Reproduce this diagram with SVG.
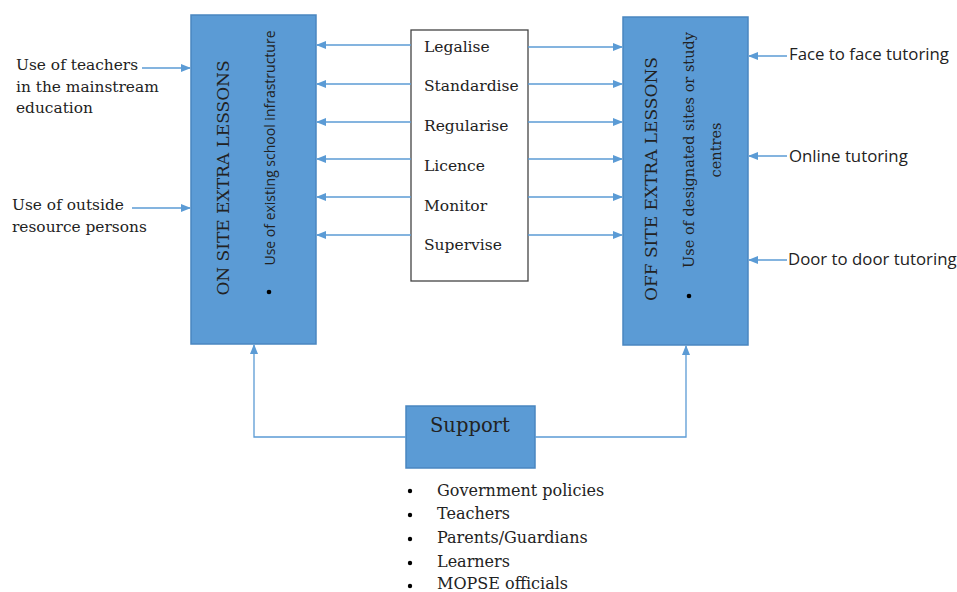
<svg xmlns="http://www.w3.org/2000/svg" width="957" height="592" viewBox="0 0 957 592">
<style>
.box{fill:#5b9bd5;stroke:#4a86c0;stroke-width:1.5}
.ser{font-family:"DejaVu Serif","Liberation Serif",serif;fill:#222}
.san{font-family:"Open Sans","Liberation Sans",sans-serif;fill:#222}
.ln{stroke:#5b9bd5;stroke-width:1.3;fill:none}
</style>
<defs>
<marker id="ah" markerWidth="10" markerHeight="8" refX="9" refY="4" orient="auto" markerUnits="userSpaceOnUse">
<path d="M0,0 L10,4 L0,8 z" fill="#5b9bd5"/>
</marker>
</defs>
<rect width="957" height="592" fill="#fff"/>
<g id="onsite">
<rect class="box" x="191" y="15" width="125" height="329"/>
<text class="ser" font-size="17" transform="translate(229,178) rotate(-90)" text-anchor="middle">ON SITE EXTRA LESSONS</text>
<text class="san" font-size="14" transform="translate(275,148) rotate(-90)" text-anchor="middle">Use of existing school infrastructure</text>
<circle cx="269" cy="292" r="2.3" fill="#000"/>
</g>
<g id="offsite">
<rect class="box" x="623" y="17" width="125" height="328"/>
<text class="ser" font-size="17" transform="translate(657,179) rotate(-90)" text-anchor="middle">OFF SITE EXTRA LESSONS</text>
<text class="ser" font-size="14.5" transform="translate(694,150) rotate(-90)" text-anchor="middle">Use of designated  sites or study</text>
<text class="ser" font-size="14.5" transform="translate(721,150) rotate(-90)" text-anchor="middle">centres</text>
<circle cx="689" cy="296" r="2.3" fill="#000"/>
</g>
<g id="actions">
<rect x="411" y="30" width="117" height="251" fill="#fff" stroke="#444" stroke-width="1.3"/>
<g class="ser" font-size="15.5">
<text x="424" y="52">Legalise</text>
<text x="424" y="91">Standardise</text>
<text x="424" y="131">Regularise</text>
<text x="424" y="171">Licence</text>
<text x="424" y="211">Monitor</text>
<text x="424" y="250">Supervise</text>
</g>
</g>
<g id="support">
<rect class="box" x="406" y="406" width="129" height="62"/>
<text class="ser" font-size="19.5" x="430" y="432">Support</text>
<g class="ser" font-size="16">
<circle cx="410" cy="491" r="2.2" fill="#000"/><text x="437" y="496">Government policies</text>
<circle cx="410" cy="515" r="2.2" fill="#000"/><text x="437" y="519">Teachers</text>
<circle cx="410" cy="539" r="2.2" fill="#000"/><text x="437" y="543">Parents/Guardians</text>
<circle cx="410" cy="563" r="2.2" fill="#000"/><text x="437" y="567">Learners</text>
<circle cx="410" cy="586" r="2.2" fill="#000"/><text x="437" y="589">MOPSE officials</text>
</g>
</g>
<g id="left-labels" class="ser" font-size="15.4">
<text x="16" y="70">Use of teachers</text>
<text x="16" y="92">in the mainstream</text>
<text x="16" y="113">education</text>
<text x="12" y="210">Use of outside</text>
<text x="12" y="232">resource persons</text>
</g>
<g id="right-labels" class="san" font-size="16.8">
<text x="789" y="60">Face to face tutoring</text>
<text x="789" y="162">Online tutoring</text>
<text x="788" y="265">Door to door tutoring</text>
</g>
<g id="connectors" class="ln">
<line x1="411" y1="45" x2="317" y2="45" marker-end="url(#ah)"/>
<line x1="411" y1="84" x2="317" y2="84" marker-end="url(#ah)"/>
<line x1="411" y1="122" x2="317" y2="122" marker-end="url(#ah)"/>
<line x1="411" y1="159" x2="317" y2="159" marker-end="url(#ah)"/>
<line x1="411" y1="197" x2="317" y2="197" marker-end="url(#ah)"/>
<line x1="411" y1="235" x2="317" y2="235" marker-end="url(#ah)"/>
<line x1="528" y1="47" x2="622" y2="47" marker-end="url(#ah)"/>
<line x1="528" y1="84" x2="622" y2="84" marker-end="url(#ah)"/>
<line x1="528" y1="122" x2="622" y2="122" marker-end="url(#ah)"/>
<line x1="528" y1="159" x2="622" y2="159" marker-end="url(#ah)"/>
<line x1="528" y1="197" x2="622" y2="197" marker-end="url(#ah)"/>
<line x1="528" y1="235" x2="622" y2="235" marker-end="url(#ah)"/>
<line x1="142" y1="68" x2="190" y2="68" marker-end="url(#ah)"/>
<line x1="132" y1="208" x2="190" y2="208" marker-end="url(#ah)"/>
<line x1="787" y1="56" x2="749" y2="56" marker-end="url(#ah)"/>
<line x1="787" y1="156" x2="749" y2="156" marker-end="url(#ah)"/>
<line x1="787" y1="260" x2="749" y2="260" marker-end="url(#ah)"/>
<polyline points="406,437 254,437 254,345" marker-end="url(#ah)"/>
<polyline points="535,437 686,437 686,346" marker-end="url(#ah)"/>
</g>
</svg>
